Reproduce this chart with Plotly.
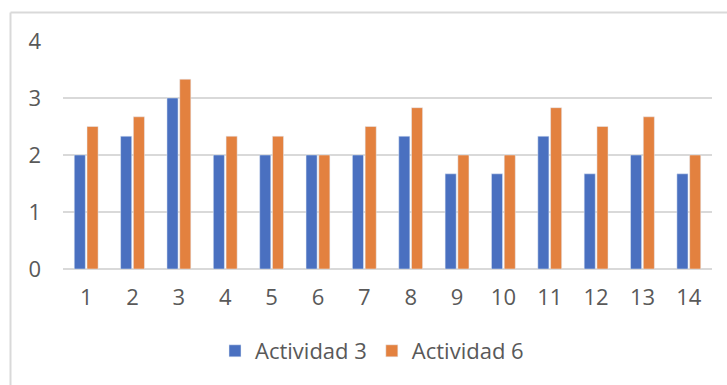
import plotly.graph_objects as go

# Data
categories = [str(i) for i in range(1, 15)]
actividad_3 = [2.0, 2.33, 3.0, 2.0, 2.0, 2.0, 2.0, 2.33, 1.67, 1.67, 2.33, 1.67, 2.0, 1.67]
actividad_6 = [2.5, 2.67, 3.33, 2.33, 2.33, 2.0, 2.5, 2.83, 2.0, 2.0, 2.83, 2.5, 2.67, 2.0]
y_ticks = [0, 1, 2, 3, 4]

W, H = 727, 385
ML, MR, MT, MB = 63, 15, 41, 116
FONT = "Open Sans"
FS = 22
GREY = "#595959"
GRID = "#D9D9D9"

fig = go.Figure()
fig.add_trace(go.Bar(x=categories, y=actividad_3, name="Actividad 3",
                     marker=dict(color="#4A70C0")))
fig.add_trace(go.Bar(x=categories, y=actividad_6, name="Actividad 6",
                     marker=dict(color="#E3813F")))

# outer chart frame (top and left edges visible)
pw, ph = W - ML - MR, H - MT - MB
def px_to_paper_x(px):
    return (px - ML) / pw
def px_to_paper_y(py):
    return (H - MB - py) / ph

frame_x, frame_y = 10.5, 12.5
fig.add_shape(type="line", xref="paper", yref="paper",
              x0=px_to_paper_x(frame_x), x1=px_to_paper_x(W + 5),
              y0=px_to_paper_y(frame_y), y1=px_to_paper_y(frame_y),
              line=dict(color=GRID, width=2))
fig.add_shape(type="line", xref="paper", yref="paper",
              x0=px_to_paper_x(frame_x), x1=px_to_paper_x(frame_x),
              y0=px_to_paper_y(frame_y), y1=px_to_paper_y(H + 5),
              line=dict(color=GRID, width=2))

fig.update_layout(
    width=W, height=H,
    margin=dict(l=ML, r=MR, t=MT, b=MB, pad=0),
    paper_bgcolor="white", plot_bgcolor="white",
    barmode="group", bargap=0.45, bargroupgap=0.13,
    font=dict(family=FONT, color=GREY, size=FS),
    showlegend=True,
    legend=dict(orientation="h", x=px_to_paper_x(372), xanchor="center",
                y=px_to_paper_y(351), yanchor="middle",
                font=dict(family=FONT, size=FS, color=GREY),
                itemwidth=30, traceorder="normal"),
)
fig.update_xaxes(showgrid=False, showline=False, zeroline=False,
                 ticks="", ticklabelstandoff=13,
                 tickfont=dict(family=FONT, size=FS, color=GREY))
fig.update_yaxes(range=[0, 4], tickvals=y_ticks, showgrid=True,
                 gridcolor=GRID, gridwidth=1.5, zeroline=True,
                 zerolinecolor=GRID, zerolinewidth=1.5, showline=False,
                 ticks="", ticklabelstandoff=21,
                 tickfont=dict(family=FONT, size=FS, color=GREY))

fig.write_html("out.html")
